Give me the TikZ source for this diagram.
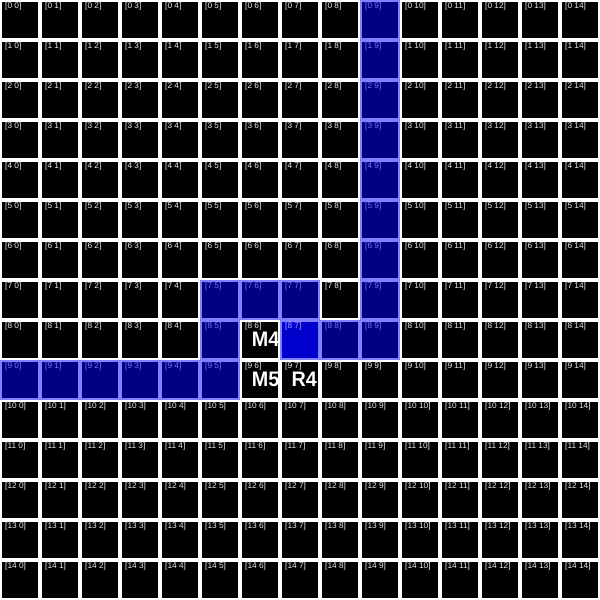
\documentclass[tikz,border=0pt]{standalone}
\usepackage{fontspec}
\setmainfont{Liberation Sans}
\definecolor{lblgray}{RGB}{235,235,235}
\definecolor{lblblue}{RGB}{140,140,255}
\begin{document}
\begin{tikzpicture}[x=1pt,y=-1pt,
  cellbox/.style={fill=black},
  bluecell/.style={fill=blue,fill opacity=0.5},
  brightcell/.style={fill=blue,fill opacity=0.6},
  celllabel/.style={anchor=base west,inner sep=0pt,font=\fontsize{8.3}{8.3}\selectfont,text=lblgray},
  bigtext/.style={anchor=base west,inner sep=0pt,font=\bfseries\fontsize{21}{21}\selectfont,text=white}]
\useasboundingbox (0,0) rectangle (600,600);
\fill[white] (0,0) rectangle (600,600);
\foreach \i in {0,...,14} {
  \foreach \j in {0,...,14} {
    \fill[cellbox] ({40*\j+1.5},{40*\i+1.5}) rectangle ++(36,36);
    \node[celllabel] (lbl-\i-\j) at ({40*\j+5},{40*\i+8.5}) {[\i\ \j]};
  }
}
\foreach \i/\j in {0/9,1/9,2/9,3/9,4/9,5/9,6/9,7/9,8/9,7/5,7/6,7/7,8/5,8/7,8/8,9/0,9/1,9/2,9/3,9/4,9/5} {
  \fill[bluecell] ({40*\j},{40*\i}) rectangle ++(40,40);
}
\fill[brightcell] (281.5,321.5) rectangle ++(36,36);
\node[celllabel,text=lblblue] (lblhi) at (285,328.5) {[8 7]};
\node[bigtext] (m4) at (251.7,346.7) {\scalebox{0.94}[1]{M4}};
\node[bigtext] (m5) at (251.7,386.5) {\scalebox{0.94}[1]{M5}};
\node[bigtext] (r4) at (291.5,386.5) {\scalebox{0.94}[1]{R4}};
\end{tikzpicture}
\end{document}
